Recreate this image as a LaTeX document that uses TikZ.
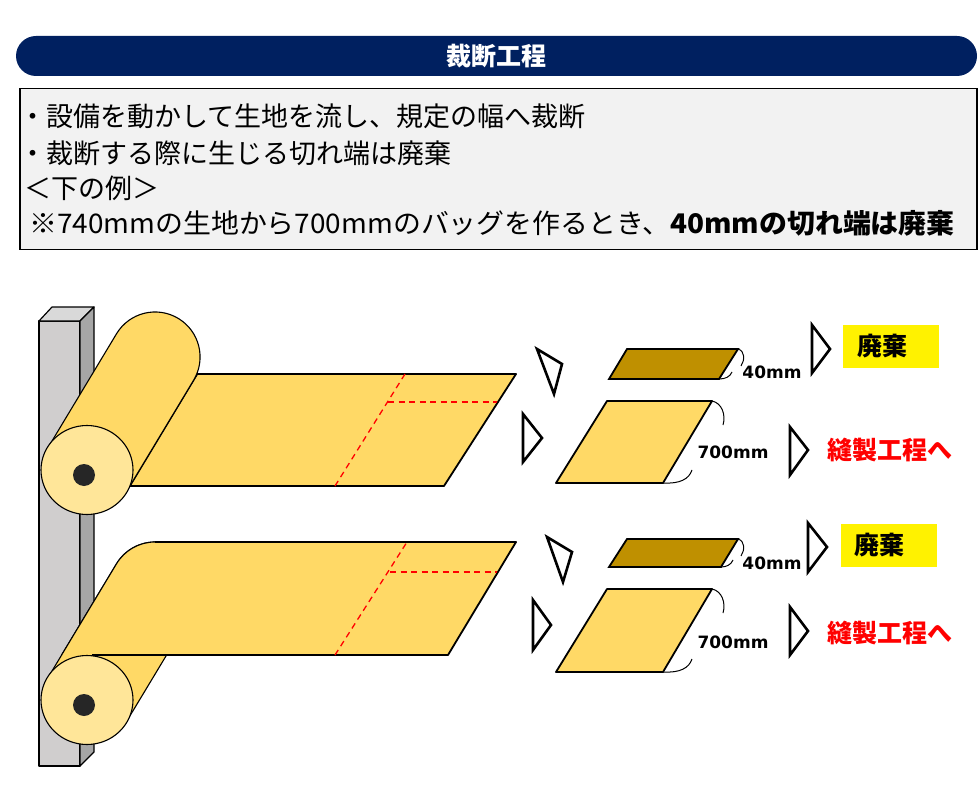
\documentclass[tikz,border=0pt]{standalone}
\usepackage{fontspec}
\setmainfont{Noto Sans CJK JP}
\newfontfamily\lblfont{DejaVu Sans}
\usepackage{xcolor}
\usepackage{graphicx}
\usetikzlibrary{positioning}
\definecolor{navy}{HTML}{002060}
\definecolor{boxgray}{HTML}{F2F2F2}
\definecolor{sheetyellow}{HTML}{FFD966}
\definecolor{rollend}{HTML}{FFE699}
\definecolor{wastegold}{HTML}{BF9000}
\definecolor{postfront}{HTML}{D0CECE}
\definecolor{postside}{HTML}{A6A6A6}
\definecolor{posttop}{HTML}{D9D9D9}
\definecolor{hubdark}{HTML}{262626}

\begin{document}
\begin{tikzpicture}[x=1pt, y=-1pt,
    hdr/.style={fill=navy, text=white, rounded corners=20pt, minimum width=961pt, minimum height=40pt, inner sep=0pt, font=\fontsize{25}{30}\selectfont\bfseries},
    descbox/.style={draw, line width=1.5pt, fill=boxgray, minimum width=957pt, minimum height=161pt, anchor=north west, inner sep=0pt},
    txtline/.style={anchor=west, inner sep=0pt, font=\fontsize{27}{32}\selectfont},
    post/.style={draw, line width=1.2pt, line join=round},
    roll/.style={draw, line width=1.1pt, fill=sheetyellow},
    sheet/.style={draw, line width=1.8pt, fill=sheetyellow, line join=round},
    cutline/.style={red, line width=1.3pt, dash pattern=on 6pt off 4.5pt},
    waste/.style={draw, line width=1.8pt, fill=wastegold},
    tri/.style={draw, line width=2.6pt, fill=white, line join=miter},
    brace/.style={line width=1pt},
    mm/.style={inner sep=1pt, font=\lblfont\fontsize{17}{20}\selectfont\bfseries},
    discard/.style={fill=yellow, minimum width=96pt, minimum height=43pt, inner sep=0pt, font=\fontsize{25}{30}\selectfont\bfseries},
    nextstep/.style={inner sep=0pt, text=red, font=\fontsize{25}{30}\selectfont\bfseries}]
  \useasboundingbox (0,0) rectangle (979,810);

  % title and description
  \node (title) [hdr] at (496.5,56) {裁断工程};
  \node (desc) [descbox] at (19,88) {};
  \node (l1) [txtline] at (19,116) {・設備を動かして生地を流し、規定の幅へ裁断};
  \node (l2) [txtline] at (19,153) {・裁断する際に生じる切れ端は廃棄};
  \node (l3) [txtline] at (24,188) {＜下の例＞};
  \node (l4) [txtline] at (29,223) {\scalebox{1.034}[1]{※740mmの生地から700mmのバッグを作るとき、{\bfseries 40mmの切れ端は廃棄}}};

  % post
  \draw[post, fill=postfront] (39,321) rectangle (80,766);
  \draw[post, fill=posttop] (39,321) -- (52,307) -- (94,307) -- (80,321) -- cycle;
  \draw[post, fill=postside] (80,321) -- (94,307) -- (94,752) -- (80,766) -- cycle;

  % upper roll
  \draw[sheet] (129.8,486) -- (444,486) -- (516,374) -- (197.2,374) -- cycle;
  \draw[cutline] (335,486) -- (405,374);
  \draw[cutline] (388,402) -- (497,402);
  \draw[roll] (48.5,446.8) -- (116.5,333.8) arc[start angle=211, end angle=391, radius=45] -- (125.5,493.2) -- cycle;
  \draw[roll, fill=rollend] (87,470) ellipse [x radius=46, y radius=44.5];
  \fill[hubdark] (84,475) circle [radius=11];

  % lower roll
  \draw[roll] (48.5,676.8) -- (116.5,563.8) arc[start angle=211, end angle=391, radius=45] -- (125.5,723.2) -- cycle;
  \fill[sheetyellow] (155,542) -- (516,542) -- (448,655) -- (61.6,655) -- (116.5,563.8) arc[start angle=211, end angle=270, radius=45] -- cycle;
  \draw[sheet, fill=none] (92,655) -- (448,655) -- (516,542) -- (155,542);
  \draw[roll, fill=none] (61.6,655) -- (116.5,563.8) arc[start angle=211, end angle=270, radius=45];
  \draw[cutline] (335,655) -- (407,542);
  \draw[cutline] (390,572) -- (497,572);
  \draw[roll, fill=rollend] (87,700) ellipse [x radius=46, y radius=44.5];
  \fill[hubdark] (84,705) circle [radius=11];

  % upper result
  \draw[tri] (537,349) -- (562,364) -- (554,394) -- cycle;
  \draw[tri] (523,414) -- (542,438) -- (523,462) -- cycle;
  \draw[waste] (609,379) -- (627,349) -- (738,349) -- (719,379) -- cycle;
  \draw[brace] (738,349) .. controls (745,351) and (745,360) .. (741,366);
  \draw[brace] (732,372) .. controls (730,377) and (725,379) .. (719,379);
  \node (w40a) [mm] at (772,372) {40mm};
  \draw[tri] (812,325) -- (830,349) -- (812,373) -- cycle;
  \node (dispa) [discard] at (891,346.5) {\hspace*{-18pt}廃棄};
  \draw[sheet] (556,483) -- (607,401) -- (712,401) -- (663,483) -- cycle;
  \draw[brace] (712,401) .. controls (722,403) and (726,415) .. (723,425);
  \draw[brace] (692,470) .. controls (689,479) and (680,484) .. (663,483);
  \node (w700a) [mm] at (733,452) {700mm};
  \draw[tri] (790,427) -- (808,450) -- (790,475) -- cycle;
  \node (nexta) [nextstep] at (890,450) {縫製工程へ};

  % lower result
  \draw[tri] (547,537) -- (572,552) -- (563,582) -- cycle;
  \draw[tri] (533,600) -- (551,625) -- (533,650) -- cycle;
  \draw[waste] (609,567) -- (627,539) -- (738,539) -- (721,567) -- cycle;
  \draw[brace] (738,539) .. controls (745,541) and (745,550) .. (741,556);
  \draw[brace] (733,560) .. controls (731,565) and (726,567) .. (721,567);
  \node (w40b) [mm] at (772,563) {40mm};
  \draw[tri] (808,523) -- (827,547) -- (808,572) -- cycle;
  \node (dispb) [discard] at (888.5,545) {\hspace*{-18pt}廃棄};
  \draw[sheet] (556,672) -- (607,589) -- (712,589) -- (663,672) -- cycle;
  \draw[brace] (712,589) .. controls (722,591) and (726,603) .. (723,613);
  \draw[brace] (692,659) .. controls (689,668) and (680,673) .. (663,672);
  \node (w700b) [mm] at (733,642) {700mm};
  \draw[tri] (790,607) -- (808,631) -- (790,655) -- cycle;
  \node (nextb) [nextstep] at (890,633) {縫製工程へ};
\end{tikzpicture}
\end{document}
